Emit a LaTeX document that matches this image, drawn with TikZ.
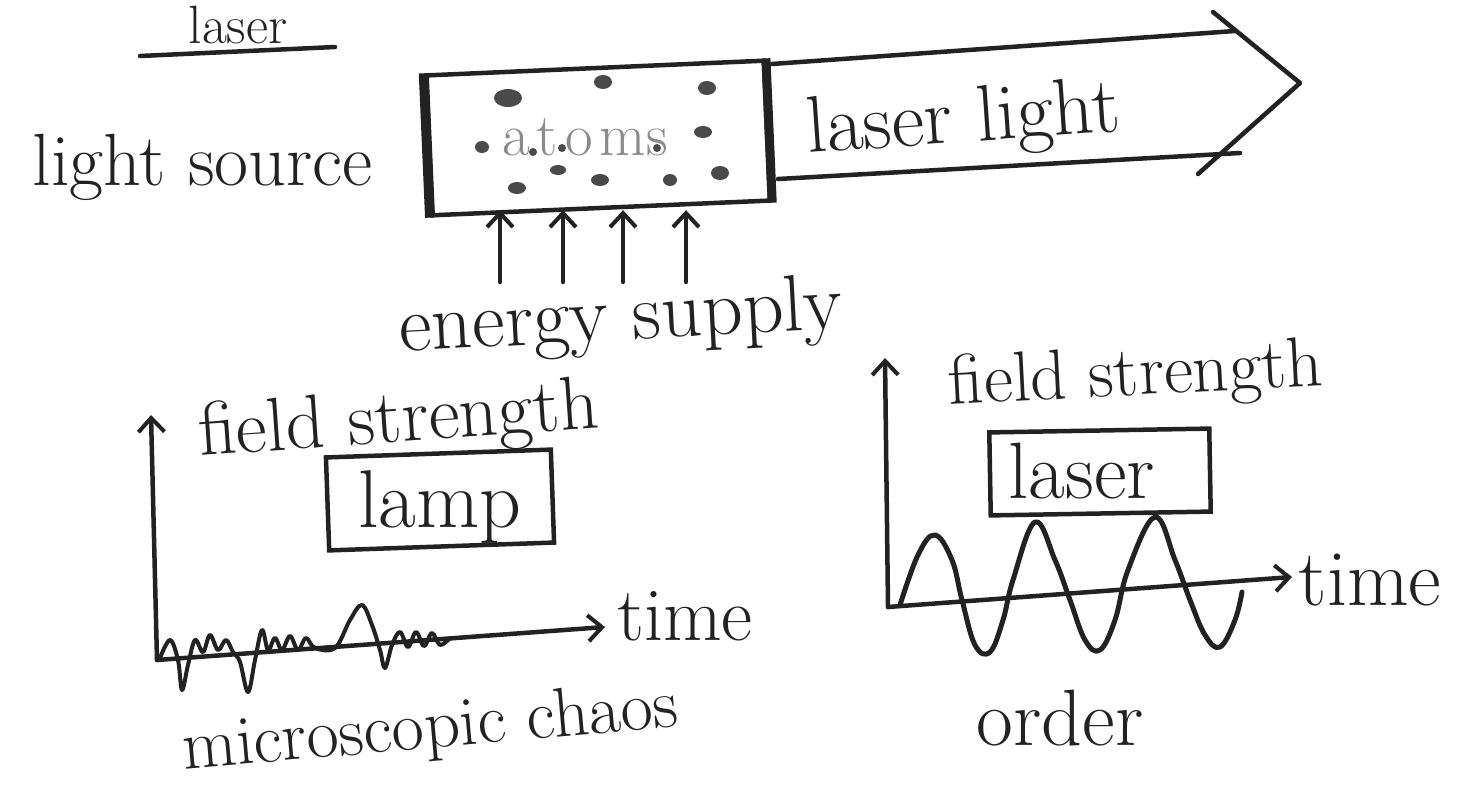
\documentclass[tikz,border=0pt]{standalone}
\usepackage{fontspec}
\usetikzlibrary{arrows.meta,calc}
\newcommand\hwsize[1]{\fontsize{#1}{#1}\selectfont}
\definecolor{inkc}{HTML}{222222}
\definecolor{dotc}{HTML}{4a4a4a}
\definecolor{pencil}{HTML}{8a8a8a}
\begin{document}
\begin{tikzpicture}[x=1pt,y=-1pt,
  ink/.style={line width=4.5pt, line cap=round, line join=round, draw=inkc},
  hw/.style={inner sep=0pt, anchor=base, text=inkc},
  barb/.style={-{Straight Barb[length=14pt,width=26pt,line width=4pt]}},
  frame/.style={draw=inkc, line width=4.5pt, inner sep=0pt}
]
\useasboundingbox (0,0) rectangle (1467,792);
\fill[white] (0,0) rectangle (1467,792);

% title
\node[hw, font=\hwsize{54}] (title) at (238,44) {laser};
\coordinate (ul1) at (140,56);
\coordinate (ul2) at (335,47);
\draw[ink] (ul1) -- (ul2);

% atoms box
\node[frame, minimum width=338pt, minimum height=140pt, rotate=2.5] (box) at (598,138) {};
\draw[inkc, line width=10pt] (box.north west) -- (box.south west);
\draw[inkc, line width=9pt] (box.north east) -- (box.south east);
\node[hw, font=\hwsize{60}, text=pencil] (atoms) at (585,155) {a\kern7pt t\kern7pt o\kern7pt ms};
\foreach \p/\a/\b in {(508,98)/14/9,(603,82)/9/7,(707,88)/9/7,(482,147)/7/6,(703,132)/9/6,
  (558,170)/8/5,(517,188)/9/6,(600,180)/9/6,(670,180)/7/6,(720,173)/9/7,
  (533,152)/4/4,(562,148)/4/4,(657,148)/4/4}
  \fill[dotc] \p ellipse (\a pt and \b pt);

% light source
\node[hw, font=\hwsize{74}] (source) at (203,185) {light source};

% laser light arrow
\coordinate (t1) at (772,64);
\coordinate (t2) at (1235,31);
\coordinate (b1) at (778,179);
\coordinate (b2) at (1240,153);
\coordinate (h1) at (1213,12);
\coordinate (tip) at (1300,83);
\coordinate (h2) at (1198,174);
\draw[ink] (t1) -- (t2);
\draw[ink] (b1) -- (b2);
\draw[ink] (h1) -- (tip) -- (h2);
\node[hw, font=\hwsize{80}, rotate=4] (laserlight) at (965,142) {laser light};

% energy supply
\foreach \i/\x in {1/500,2/563,3/623,4/686}{
  \coordinate (e\i) at (\x,282);
  \draw[ink, barb] (e\i) -- (e\i |- box.south);
}
\node[hw, font=\hwsize{80}, rotate=3] (energy) at (622,340) {energy supply};

% left chart
\coordinate (lo) at (157,660);
\coordinate (ltop) at (151,415);
\coordinate (lend) at (605,627);
\draw[ink, barb] (lo) -- (ltop);
\draw[ink, barb] (lo) -- (lend);
\node[hw, font=\hwsize{76}, rotate=4] (lfs) at (400,442) {field strength};
\node[frame, minimum width=225pt, minimum height=93pt, rotate=2] (lampbox) at (440,500) {};
\node[hw, font=\hwsize{82}] (lamp) at (440,527) {lamp};
\node[hw, font=\hwsize{76}] (ltime) at (685,640) {time};
\draw[ink, line width=4pt] plot[smooth, tension=0.6] coordinates {
 (160,658) (170,640) (178,660) (182,690) (188,665) (195,640) (203,652) (210,635) (218,650) (226,640) (233,652)
 (240,662) (248,692) (255,660) (262,630) (268,650) (275,638) (282,650) (290,636) (298,650) (306,638) (315,648)
 (335,648) (350,620) (362,605) (372,625) (380,650) (385,668) (392,645) (400,632) (408,647) (416,632) (424,646)
 (432,633) (440,645) (450,638)};
\node[hw, font=\hwsize{70}, rotate=5] (chaos) at (432,748) {microscopic chaos};

% right chart
\coordinate (ro) at (888,607);
\coordinate (rtop) at (885,358);
\coordinate (rend) at (1292,577);
\draw[ink, barb] (ro) -- (rtop);
\draw[ink, barb] (ro) -- (rend);
\node[hw, font=\hwsize{71}, rotate=3] (rfs) at (1137,395) {field strength};
\node[frame, minimum width=220pt, minimum height=83pt, rotate=1] (laserbox) at (1100,472) {};
\node[hw, font=\hwsize{80}] (laser) at (1082,498) {laser};
\node[hw, font=\hwsize{80}] (rtime) at (1370,605) {time};
\draw[ink, line width=5pt] plot[smooth, tension=0.65] coordinates {
 (900,605) (918,555) (935,535) (952,560) (962,600) (975,645) (990,652) (1003,620) (1013,580)
 (1035,522) (1055,560) (1070,600) (1085,640) (1100,650) (1115,620) (1128,570) (1155,517) (1175,560)
 (1190,600) (1205,635) (1220,647) (1235,620) (1242,592)};
\node[hw, font=\hwsize{80}] (order) at (1060,745) {order};
\end{tikzpicture}
\end{document}
